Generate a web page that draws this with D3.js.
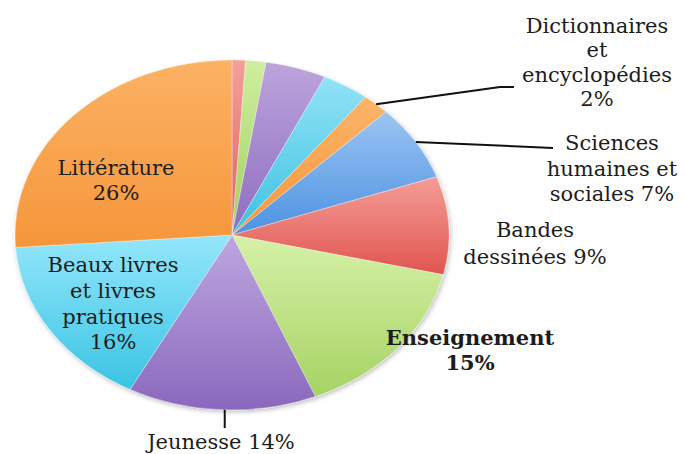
<!DOCTYPE html>
<html>
<head>
<meta charset="utf-8">
<script src="https://cdn.jsdelivr.net/npm/d3@7"></script>
<style>
  body { margin: 0; background: #fff; }
  text { font-family: "DejaVu Serif", serif; fill: #1c1c1c; }
</style>
</head>
<body>
<div id="chart"></div>
<script>
// Data (clockwise from 12 o'clock)
const categories = ["a", "b", "c", "d", "Dictionnaires et encyclopédies", "Sciences humaines et sociales",
  "Bandes dessinées", "Enseignement", "Jeunesse", "Beaux livres et livres pratiques", "Littérature"];
const values = [1, 1.5, 4.5, 3.5, 2, 7, 9, 15, 14, 16, 26];
const colors = [
  ["#f4a09a", "#e0605a"], ["#cfeea0", "#a3cf5e"], ["#bca4dc", "#8d6dc0"], ["#92e2f6", "#3cc2e2"],
  ["#fbb468", "#f6963c"], ["#9cc4f2", "#4c92e2"], ["#f59d97", "#e05550"], ["#d6f1a8", "#a6d262"],
  ["#bea6e0", "#8a68bd"], ["#94e6fa", "#3ac4e4"], ["#fbb264", "#f6963a"]
];

const width = 685, height = 454;
const cx = 232, cy = 235, rx = 217, ry = 175;

const svg = d3.select("#chart").append("svg")
  .attr("width", width).attr("height", height);

const defs = svg.append("defs");
colors.forEach((c, i) => {
  const g = defs.append("linearGradient").attr("id", "g" + i)
    .attr("x1", 0).attr("y1", 0).attr("x2", 0).attr("y2", 1);
  g.append("stop").attr("offset", "0%").attr("stop-color", c[0]);
  g.append("stop").attr("offset", "100%").attr("stop-color", c[1]);
});
const f = defs.append("filter").attr("id", "shadow").attr("x", "-10%").attr("y", "-10%")
  .attr("width", "120%").attr("height", "120%");
f.append("feDropShadow").attr("dx", 1).attr("dy", 2).attr("stdDeviation", 2)
  .attr("flood-color", "#000").attr("flood-opacity", 0.25);

const pie = d3.pie().sort(null).value(d => d)(values);
const arc = d3.arc().innerRadius(0).outerRadius(ry);

const pieG = svg.append("g")
  .attr("transform", `translate(${cx},${cy}) scale(${rx / ry},1)`)
  .attr("filter", "url(#shadow)");

pieG.selectAll("path").data(pie).enter().append("path")
  .attr("d", arc)
  .attr("fill", (d, i) => `url(#g${i})`)
  .attr("stroke", "rgba(255,255,255,0.5)")
  .attr("stroke-width", 0.6);

// point on ellipse edge at middle of slice
function edge(i) {
  const a = (pie[i].startAngle + pie[i].endAngle) / 2;
  return [cx + rx * Math.sin(a), cy - ry * Math.cos(a)];
}

// Leader lines
const dictP = edge(4), sciP = edge(5), jeuP = edge(8);
const leaders = [
  [dictP, [500, 87], [514, 87]],
  [sciP, [553, 148]],
  [[jeuP[0] + 3, jeuP[1]], [jeuP[0] + 3, 428]]
];
leaders.forEach(pts => {
  svg.append("path")
    .attr("d", d3.line()(pts))
    .attr("fill", "none").attr("stroke", "#111").attr("stroke-width", 2);
});

// Labels
const labels = [
  { lines: ["Dictionnaires", "et", "encyclopédies", "2%"], x: 597, y: 25.5, lh: 24.5 },
  { lines: ["Sciences", "humaines et", "sociales 7%"], x: 612, y: 143, lh: 25.5 },
  { lines: ["Bandes", "dessinées 9%"], x: 535, y: 230, lh: 26.5 },
  { lines: ["Enseignement", "15%"], x: 470, y: 338, lh: 24.5, bold: true },
  { lines: ["Jeunesse 14%"], x: 221, y: 442, lh: 25 },
  { lines: ["Beaux livres", "et livres", "pratiques", "16%"], x: 113, y: 265, lh: 25.7 },
  { lines: ["Littérature", "26%"], x: 116, y: 168, lh: 25 }
];
labels.forEach(l => {
  const t = svg.append("text")
    .attr("text-anchor", "middle")
    .attr("font-size", 21)
    .attr("font-weight", l.bold ? "bold" : "normal");
  l.lines.forEach((s, k) => {
    t.append("tspan").attr("x", l.x).attr("y", l.y + k * l.lh)
      .attr("dy", "0.35em").text(s);
  });
});
</script>
</body>
</html>
